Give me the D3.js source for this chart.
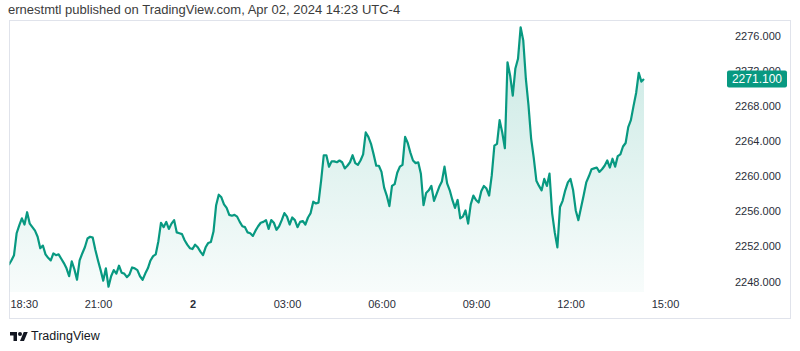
<!DOCTYPE html>
<html>
<head>
<meta charset="utf-8">
<script src="https://cdn.jsdelivr.net/npm/d3@7"></script>
<style>
  body { margin: 0; background: #fff; }
  text { font-family: "Liberation Sans", Arial, sans-serif; }
</style>
</head>
<body>
<div id="vizcontainer"></div>
<script>
const width = 800,
  height = 351;

const headline = 'ernestmtl published on TradingView.com, Apr 02, 2024 14:23 UTC-4';
const brand = 'TradingView';

// 5 minute closes, first bar 18:10 (Apr 1), last bar 14:20 (Apr 2)
const startTime = new Date(2024, 3, 1, 18, 10);
const stepMinutes = 5;
const prices = [
  2249.9, 2250.4, 2251.0, 2253.5, 2254.4, 2255.2, 2254.5, 2255.9, 2254.6, 2254.2, 2253.8, 2253.1,
  2251.8, 2252.1, 2251.1, 2250.7, 2250.4, 2251.2, 2251.0, 2251.1, 2250.6, 2250.1, 2249.5, 2248.6,
  2250.3, 2249.4, 2248.2, 2250.4, 2251.2, 2251.9, 2252.9, 2253.1, 2253.0, 2251.6, 2250.4, 2249.3,
  2248.1, 2249.5, 2247.4, 2248.6, 2249.3, 2248.9, 2249.8, 2249.0, 2248.9, 2248.5, 2248.8, 2249.6,
  2249.5, 2249.3, 2248.6, 2248.2, 2248.9, 2249.5, 2250.4, 2250.9, 2251.1, 2252.6, 2254.7, 2254.2,
  2254.8, 2254.0, 2254.6, 2255.0, 2253.6, 2253.5, 2253.4, 2252.7, 2252.2, 2251.8, 2251.7, 2252.2,
  2251.9, 2251.4, 2251.0, 2251.9, 2252.4, 2252.5, 2253.7, 2256.7, 2257.9, 2257.6, 2256.8, 2256.4,
  2255.6, 2255.5, 2255.6, 2255.4, 2254.8, 2254.3, 2254.2, 2253.6, 2253.5, 2253.2, 2253.8, 2254.3,
  2254.7, 2254.8, 2255.0, 2254.0, 2255.0, 2254.7, 2253.9, 2254.3, 2255.0, 2255.8, 2255.4, 2254.5,
  2255.3, 2255.0, 2254.2, 2254.8, 2254.9, 2254.5, 2255.3, 2255.8, 2257.1, 2256.9, 2257.0, 2259.5,
  2262.4, 2262.4, 2261.1, 2261.7, 2261.7, 2261.6, 2261.8, 2261.6, 2260.9, 2261.2, 2261.6, 2262.4,
  2261.5, 2261.3, 2261.8, 2262.5, 2265.0, 2264.5, 2263.7, 2262.5, 2261.2, 2261.2, 2260.5, 2258.7,
  2257.8, 2256.6, 2258.9, 2259.1, 2260.4, 2261.1, 2261.3, 2264.5, 2263.8, 2262.7, 2261.8, 2261.5,
  2261.6, 2260.3, 2256.7, 2258.1, 2258.4, 2258.9, 2257.2, 2258.0, 2258.8, 2259.4, 2261.1, 2259.2,
  2258.4, 2257.3, 2256.4, 2257.3, 2255.2, 2255.4, 2256.1, 2254.6, 2256.8, 2257.8, 2257.3, 2257.0,
  2258.3, 2258.9, 2258.6, 2257.8, 2260.1, 2263.5, 2263.7, 2266.4, 2265.0, 2263.2, 2273.0, 2271.5,
  2269.2, 2272.3, 2273.4, 2277.0, 2275.5, 2271.1, 2268.1, 2264.3, 2262.1, 2259.5, 2258.9, 2258.4,
  2259.7, 2258.9, 2260.3, 2255.8, 2253.6, 2251.9, 2256.5, 2257.2, 2258.4, 2259.3, 2259.7, 2258.4,
  2256.1, 2255.0, 2256.4, 2257.8, 2259.3, 2260.0, 2260.8, 2260.9, 2261.0, 2260.5, 2260.8, 2261.2,
  2261.8, 2261.0, 2262.0, 2261.1, 2262.3, 2262.5, 2263.4, 2263.8, 2265.6, 2266.4, 2268.0, 2269.5,
  2271.8, 2270.8, 2271.1
];
const lastPrice = 2271.1;

const priceTicks = [2248, 2252, 2256, 2260, 2264, 2268, 2272, 2276];
const timeTicks = [
  '2024-04-01T18:30', '2024-04-01T21:00', '2024-04-02T00:00', '2024-04-02T03:00',
  '2024-04-02T06:00', '2024-04-02T09:00', '2024-04-02T12:00', '2024-04-02T15:00'
];

const green = '#089981';
const pane = { left: 9, top: 20, right: 790, bottom: 318 };
const plotBottom = 292;

const data = prices.map((p, i) => ({
  t: new Date(startTime.getTime() + i * stepMinutes * 60000),
  v: p
}));

let viz = d3.select('#vizcontainer')
  .append('svg')
  .attr('width', width)
  .attr('height', height);

const x = d3.scaleTime()
  .domain([new Date(2024, 3, 1, 21, 0), new Date(2024, 3, 2, 15, 0)])
  .range([98, 665]);

const y = d3.scaleLinear()
  .domain([2248, 2276])
  .range([281.5, 36]);

const defs = viz.append('defs');
const grad = defs.append('linearGradient')
  .attr('id', 'areaFill')
  .attr('gradientUnits', 'userSpaceOnUse')
  .attr('x1', 0).attr('x2', 0)
  .attr('y1', y(d3.max(prices)))
  .attr('y2', plotBottom);
grad.append('stop').attr('offset', 0).attr('stop-color', green).attr('stop-opacity', 0.22);
grad.append('stop').attr('offset', 1).attr('stop-color', green).attr('stop-opacity', 0.03);

defs.append('clipPath').attr('id', 'plotClip')
  .append('rect')
  .attr('x', pane.left + 0.5)
  .attr('y', pane.top + 1)
  .attr('width', 700 - pane.left)
  .attr('height', plotBottom - pane.top);

// header
viz.append('text')
  .attr('x', 8)
  .attr('y', 14)
  .attr('font-size', 13)
  .attr('fill', '#3c3c3c')
  .text(headline);

// pane border
viz.append('rect')
  .attr('x', pane.left + 0.5)
  .attr('y', pane.top + 0.5)
  .attr('width', pane.right - pane.left)
  .attr('height', pane.bottom - pane.top)
  .attr('fill', 'none')
  .attr('stroke', '#e0e3eb');

const plot = viz.append('g').attr('clip-path', 'url(#plotClip)');

plot.append('path')
  .datum(data)
  .attr('fill', 'url(#areaFill)')
  .attr('d', d3.area()
    .x(d => x(d.t))
    .y0(plotBottom)
    .y1(d => y(d.v))
  );

plot.append('path')
  .datum(data)
  .attr('fill', 'none')
  .attr('stroke', green)
  .attr('stroke-width', 2.2)
  .attr('stroke-linejoin', 'round')
  .attr('d', d3.line()
    .x(d => x(d.t))
    .y(d => y(d.v))
  );

// time axis
const fmtTime = d3.timeFormat('%H:%M');
const isDayStart = d => d.getHours() === 0 && d.getMinutes() === 0;
const xAxis = d3.axisBottom(x)
  .tickValues(timeTicks.map(s => new Date(s)))
  .tickSize(0)
  .tickPadding(0)
  .tickFormat(d => isDayStart(d) ? String(d.getDate()) : fmtTime(d));

const gx = viz.append('g')
  .attr('transform', 'translate(0,300)')
  .call(xAxis);
gx.select('.domain').remove();
gx.selectAll('text')
  .attr('font-family', '"Liberation Sans", Arial, sans-serif')
  .attr('font-size', 11)
  .attr('fill', '#2a2e39')
  .attr('font-weight', d => isDayStart(d) ? 'bold' : 'normal');
// keep the first label inside the pane
gx.selectAll('text').each(function (d) {
  const w = this.getComputedTextLength();
  const left = x(d) - w / 2;
  if (left < pane.left + 1) d3.select(this).attr('x', pane.left + 1 - left);
});

// price axis
const yAxis = d3.axisRight(y)
  .tickValues(priceTicks)
  .tickSize(0)
  .tickPadding(0)
  .tickFormat(d3.format('.3f'));

const gy = viz.append('g')
  .attr('transform', 'translate(735,0)')
  .call(yAxis);
gy.select('.domain').remove();
gy.selectAll('text')
  .attr('font-family', '"Liberation Sans", Arial, sans-serif')
  .attr('font-size', 11)
  .attr('fill', '#2a2e39');

// last price label
viz.append('rect')
  .attr('x', 727)
  .attr('y', y(lastPrice) - 8.5)
  .attr('width', 60)
  .attr('height', 17)
  .attr('rx', 2)
  .attr('fill', green);
viz.append('text')
  .attr('x', 782)
  .attr('y', y(lastPrice))
  .attr('dy', '0.35em')
  .attr('text-anchor', 'end')
  .attr('font-size', 12)
  .attr('fill', '#fff')
  .text(d3.format('.3f')(lastPrice));

// logo
const logo = viz.append('g').attr('transform', 'translate(10,330) scale(0.5)').attr('fill', '#131722');
logo.append('path').attr('d', 'M14 22H7V11H0V4h14v18zM28 22h-8l7.5-18h8L28 22z');
logo.append('circle').attr('cx', 20).attr('cy', 8).attr('r', 4);
viz.append('text')
  .attr('x', 31)
  .attr('y', 340)
  .attr('font-size', 12.5)
  .attr('fill', '#131722')
  .text(brand);
</script>
</body>
</html>
